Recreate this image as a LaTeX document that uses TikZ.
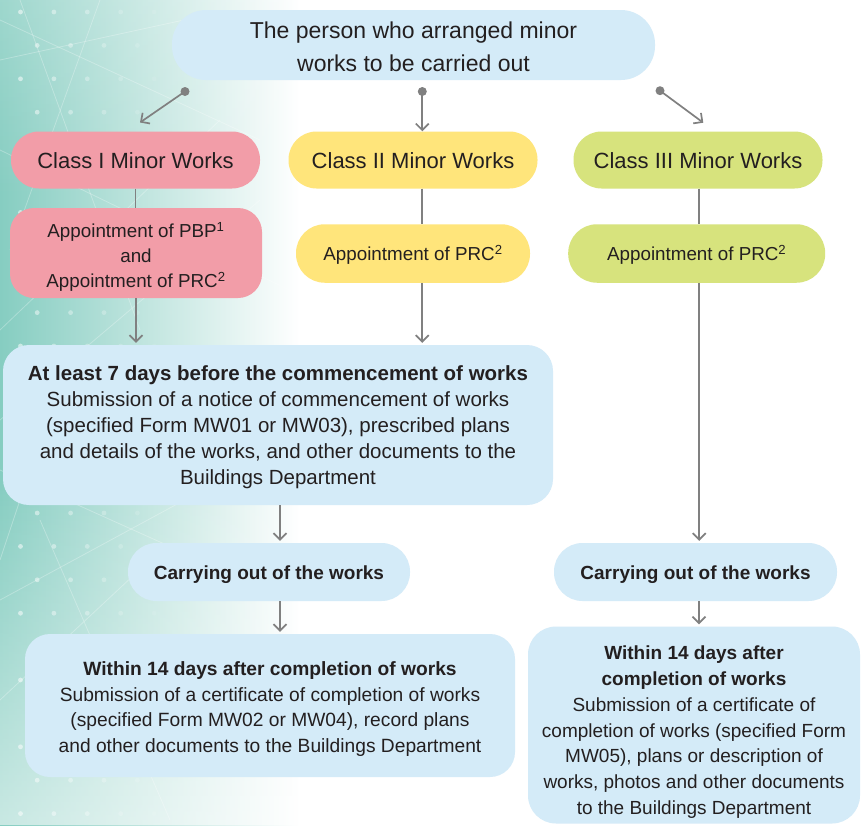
\documentclass[tikz,border=0pt]{standalone}
\usepackage{fontspec}
\setmainfont{Liberation Sans}
\usetikzlibrary{arrows.meta,fadings,calc}

\definecolor{boxblue}{HTML}{D4EBF8}
\definecolor{boxpink}{HTML}{F29DA8}
\definecolor{boxyellow}{HTML}{FFE57B}
\definecolor{boxgreen}{HTML}{D7E37D}
\definecolor{ink}{HTML}{231F20}
\definecolor{linkgray}{HTML}{808080}
\definecolor{bgteal}{HTML}{86CDC1}

% invisible strut that sets the height of a first line of text
\newcommand{\padtop}[1]{\rule{0pt}{#1}}

\tikzset{
  box/.style={draw=none, inner sep=0pt, align=center, text=ink},
  pill/.style={box, minimum height=#1, rounded corners=#1/2-0.5pt},
  link/.style={draw=linkgray, line width=1.7pt},
  arr/.style={link, -{Straight Barb[length=6.5pt,width=13pt]}},
  startdot/.style={fill=linkgray, circle, inner sep=0pt, minimum size=9pt},
  fclass/.style={font=\fontsize{22}{26}\selectfont},
  fappt/.style={font=\fontsize{18.8}{25}\selectfont},
  fbody/.style={font=\fontsize{19.2}{25.8}\selectfont},
}

\begin{document}
\begin{tikzpicture}[x=1pt, y=-1pt]
\useasboundingbox (0,0) rectangle (862,825);

% backdrop: teal wash on the left fading to white
\fill[white] (0,0) rectangle (862,825);
\shade[left color=bgteal, right color=white] (0,0) rectangle (300,825);
\fill[white, path fading=north, fill opacity=0.55] (0,480) rectangle (300,825);
\fill[white, path fading=south, fill opacity=0.2] (0,0) rectangle (300,200);

% faint criss-cross lines of the backdrop
\begin{scope}[draw=white, line width=0.8pt, opacity=0.28]
  \draw (0,20) -- (260,140);
  \draw (0,60) -- (230,10);
  \draw (20,0) -- (140,330);
  \draw (0,150) -- (310,300);
  \draw (0,330) -- (220,120);
  \draw (0,420) -- (260,200);
  \draw (60,380) -- (0,560);
  \draw (0,600) -- (240,470);
  \draw (0,700) -- (150,560);
  \draw (40,520) -- (170,820);
  \draw (0,470) -- (200,560);
  \draw (100,0) -- (10,250);
\end{scope}

% dotted grid of the backdrop
\foreach \j in {0,...,24} {
  \foreach \i in {0,...,6} {
    \pgfmathsetmacro{\xx}{20.5+33.4*\i+mod(\j,2)*16.7}
    \pgfmathsetmacro{\yy}{12+33.4*\j}
    \pgfmathsetmacro{\op}{max(0,0.6-\xx/300)}
    \fill[white, opacity=\op] (\xx,\yy) circle (2.4pt);
  }
}

% boxes
\node[box, fill=boxblue, minimum width=483pt, minimum height=70pt, rounded corners=34pt,
      font=\fontsize{23}{33}\selectfont] (top) at (413.5,45)
      {\padtop{21pt}The person who arranged minor\\works to be carried out};

\node[pill=57pt, fill=boxpink,   minimum width=249pt, fclass] (c1) at (135.5,160) {\padtop{18pt}Class I Minor Works};
\node[pill=57pt, fill=boxyellow, minimum width=249pt, fclass] (c2) at (413,160)   {\padtop{18pt}Class II Minor Works};
\node[pill=57pt, fill=boxgreen,  minimum width=249pt, fclass] (c3) at (698,160)   {\padtop{18pt}Class III Minor Works};

\node[box, fill=boxpink, minimum width=252pt, minimum height=90pt, rounded corners=24pt, fappt] (a1) at (136,253)
      {\padtop{23pt}Appointment of PBP\textsuperscript{1}\\and\\Appointment of PRC\textsuperscript{2}};
\node[pill=58.5pt, fill=boxyellow, minimum width=234pt, fappt] (a2) at (413,253.5) {\padtop{18pt}Appointment of PRC\textsuperscript{2}};
\node[pill=58.5pt, fill=boxgreen,  minimum width=257pt, fappt] (a3) at (696.7,253.5) {\padtop{18pt}Appointment of PRC\textsuperscript{2}};

\node[box, fill=boxblue, minimum width=550pt, minimum height=160pt, rounded corners=26pt,
      font=\fontsize{20.5}{26}\selectfont] (notice) at (278,425)
      {\padtop{19pt}\textbf{At least 7 days before the commencement of works}\\
       Submission of a notice of commencement of works\\
       (specified Form MW01 or MW03), prescribed plans\\
       and details of the works, and other documents to the\\
       Buildings Department};

\node[pill=58pt, fill=boxblue, minimum width=282pt, font=\bfseries\fontsize{19}{23}\selectfont] (k1) at (269,572)
      {\padtop{20pt}Carrying out of the works};
\node[pill=58pt, fill=boxblue, minimum width=283pt, font=\bfseries\fontsize{19}{23}\selectfont] (k2) at (695.5,572)
      {\padtop{20pt}Carrying out of the works};

\node[box, fill=boxblue, minimum width=490pt, minimum height=143pt, rounded corners=25pt, fbody] (done1) at (270,705.5)
      {\padtop{21pt}\textbf{Within 14 days after completion of works}\\
       Submission of a certificate of completion of works\\
       (specified Form MW02 or MW04), record plans\\
       and other documents to the Buildings Department};
\node[box, fill=boxblue, minimum width=332pt, minimum height=197pt, rounded corners=28pt,
      font=\fontsize{19}{25.9}\selectfont] (done2) at (694,725)
      {\padtop{28pt}\textbf{Within 14 days after}\\
       \textbf{completion of works}\\
       Submission of a certificate of\\
       completion of works (specified Form\\
       MW05), plans or description of\\
       works, photos and other documents\\
       to the Buildings Department};

% connectors from the top box
\coordinate (s1) at (185,91.5);
\coordinate (s2) at (422.3,91.5);
\coordinate (s3) at (660,90.7);
\coordinate (t1) at (140,122.5);
\coordinate (t3) at (703.3,122.7);
\draw[arr] (s1) -- (t1);
\draw[arr] (s2) -- (s2 |- c2.north) ;
\draw[arr] (s3) -- (t3);
\foreach \s in {s1,s2,s3} \node[startdot] at (\s) {};

% class boxes to appointment boxes
\draw[link] (c1.south) -- (c1.south |- a1.north);
\draw[link] ([xshift=9.3pt]c2.south) -- ([xshift=9.3pt]c2.south |- a2.north);
\draw[link] ([xshift=1.3pt]c3.south) -- ([xshift=1.3pt]c3.south |- a3.north);

% appointment boxes onward
\draw[arr, shorten >=2pt] (a1.south) -- (a1.south |- notice.north);
\draw[arr, shorten >=2pt] ([xshift=9.3pt]a2.south) -- ([xshift=9.3pt]a2.south |- notice.north);
\draw[arr, shorten >=2pt] ([xshift=2.6pt]a3.south) -- ([xshift=2.6pt]a3.south |- k2.north);

% works sequence
\draw[arr, shorten >=2pt] ([xshift=2pt]notice.south) -- ([xshift=2pt]notice.south |- k1.north);
\draw[arr, shorten >=2pt] ([xshift=11pt]k1.south) -- ([xshift=11pt]k1.south |- done1.north);
\draw[arr, shorten >=2pt] ([xshift=3.5pt]k2.south) -- ([xshift=3.5pt]k2.south |- done2.north);

\end{tikzpicture}
\end{document}
